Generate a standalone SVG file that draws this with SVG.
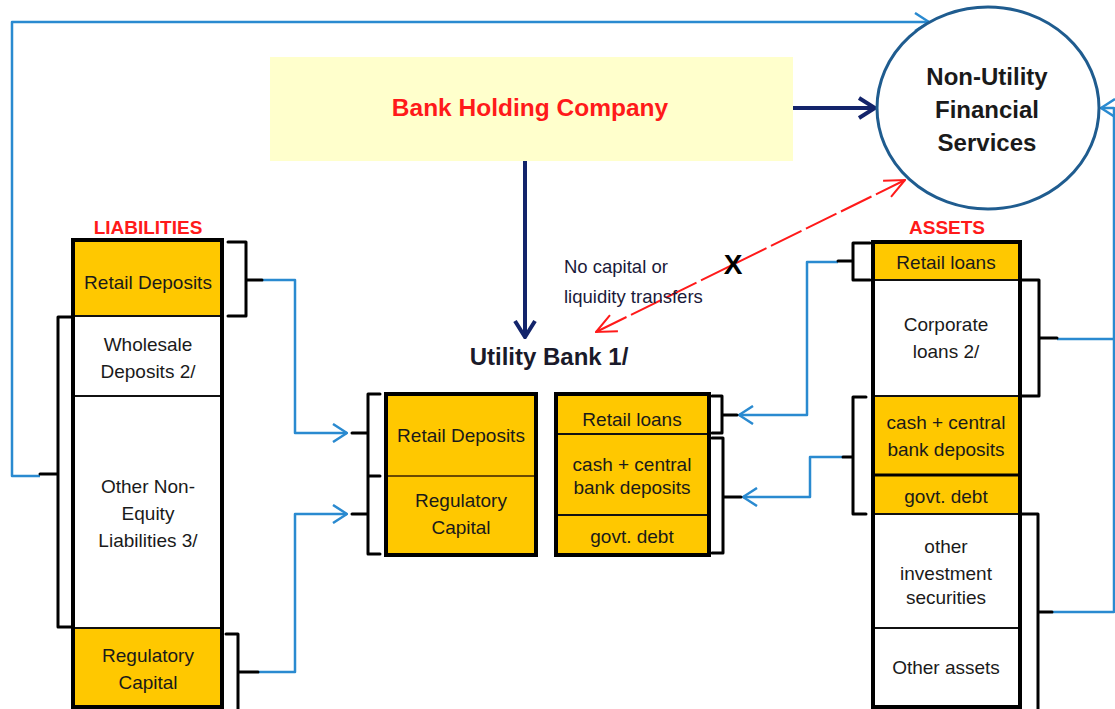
<svg xmlns="http://www.w3.org/2000/svg" width="1115" height="709" viewBox="0 0 1115 709">
<style>
.cell{font-family:"Liberation Sans",Arial,sans-serif;font-size:19px;fill:#1a1a1a;text-anchor:middle}
.hdr{font-family:"Liberation Sans",Arial,sans-serif;font-size:19px;font-weight:bold;fill:#ff1a1a;text-anchor:middle}
.org{fill:#ffc800}
.wht{fill:#ffffff}
.div{stroke:#111;stroke-width:2;fill:none}
.outer{fill:none;stroke:#000;stroke-width:4}
.brk{fill:none;stroke:#000;stroke-width:3;stroke-linejoin:round;stroke-linecap:round}
.blue{fill:none;stroke:#2a8ad0;stroke-width:2.5;stroke-linejoin:round}
.navy{fill:none;stroke:#13246b;stroke-width:4}
.red{fill:none;stroke:#ff1a1a;stroke-width:2;stroke-dasharray:34 5}
</style>
<defs>
<marker id="ab" markerUnits="userSpaceOnUse" viewBox="0 0 16 20" refX="15" refY="10" markerWidth="16" markerHeight="20" orient="auto">
<path d="M1,1 L15,10 L1,19" fill="none" stroke="#2a8ad0" stroke-width="2.5"/>
</marker>
<marker id="an" markerUnits="userSpaceOnUse" viewBox="0 0 20 24" refX="18" refY="12" markerWidth="20" markerHeight="24" orient="auto">
<path d="M2,2 L18,12 L2,22" fill="none" stroke="#13246b" stroke-width="4"/>
</marker>
<marker id="ar" markerUnits="userSpaceOnUse" viewBox="0 0 22 20" refX="21" refY="10" markerWidth="22" markerHeight="20" orient="auto-start-reverse">
<path d="M1,1 L21,10 L1,19" fill="none" stroke="#ff1a1a" stroke-width="2"/>
</marker>
</defs>
<rect width="1115" height="709" fill="#fff"/>

<g id="connectors">
<path class="blue" d="M262,280 H295 V433 H347" marker-end="url(#ab)"/>
<path class="blue" d="M258,672 H295 V514 H347" marker-end="url(#ab)"/>
<path class="blue" d="M40,476 H12 V22 H929" marker-end="url(#ab)"/>
<path class="blue" d="M838,262 H807 V415 H739" marker-end="url(#ab)"/>
<path class="blue" d="M843,457 H810 V497 H743" marker-end="url(#ab)"/>
<path class="blue" d="M1057,339 H1115"/>
<path class="blue" d="M1052,612 H1114 V108 H1101" marker-end="url(#ab)"/>
<path class="navy" d="M793,108 H875" marker-end="url(#an)"/>
<path class="navy" d="M525,160 V337" marker-end="url(#an)"/>
<path class="red" d="M596,332 L905,180" marker-start="url(#ar)" marker-end="url(#ar)"/>
</g>

<g id="bank-holding">
<rect x="270" y="57" width="523" height="104" fill="#ffffcc"/>
<text x="530" y="116" font-family="Liberation Sans,Arial,sans-serif" font-size="24.5" font-weight="bold" fill="#ff1a1a" text-anchor="middle">Bank Holding Company</text>
</g>

<g id="non-utility">
<ellipse cx="988" cy="108" rx="111" ry="101" fill="#fff" stroke="#1f5c8f" stroke-width="3"/>
<g font-family="Liberation Sans,Arial,sans-serif" font-size="24" font-weight="bold" fill="#1a1a1a" text-anchor="middle">
<text x="987" y="85">Non-Utility</text>
<text x="987" y="118">Financial</text>
<text x="987" y="151">Services</text>
</g>
</g>

<g id="transfer-note">
<text x="564" y="273" font-family="Liberation Sans,Arial,sans-serif" font-size="18.5" fill="#1a1a3a">No capital or</text>
<text x="564" y="303" font-family="Liberation Sans,Arial,sans-serif" font-size="18.5" fill="#1a1a3a">liquidity transfers</text>
<text x="733" y="274" font-family="Liberation Sans,Arial,sans-serif" font-size="28" font-weight="bold" fill="#000" text-anchor="middle">X</text>
</g>

<g id="liabilities">
<text class="hdr" x="148" y="234">LIABILITIES</text>
<rect class="org" x="73" y="240" width="149" height="76"/>
<rect class="wht" x="73" y="316" width="149" height="312"/>
<rect class="org" x="73" y="628" width="149" height="79"/>
<path class="div" d="M73,316 H222 M73,396 H222 M73,628 H222"/>
<rect class="outer" x="73" y="240" width="149" height="467"/>
<text class="cell" x="148" y="289">Retail Deposits</text>
<text class="cell" x="148" y="351">Wholesale</text>
<text class="cell" x="148" y="378">Deposits 2/</text>
<text class="cell" x="148" y="493">Other Non-</text>
<text class="cell" x="148" y="520">Equity</text>
<text class="cell" x="148" y="547">Liabilities 3/</text>
<text class="cell" x="148" y="662">Regulatory</text>
<text class="cell" x="148" y="689">Capital</text>
<path class="brk" d="M228,242 H246 V316 H228 M246,280 H262"/>
<path class="brk" d="M73,317 H58 V627 H73 M58,474 H40"/>
<path class="brk" d="M226,634 H238 V730 M238,672 H258"/>
</g>

<g id="utility-bank">
<text x="549" y="365" font-family="Liberation Sans,Arial,sans-serif" font-size="24" font-weight="bold" fill="#1a1a2a" text-anchor="middle">Utility Bank 1/</text>
<rect class="org" x="386" y="394" width="150" height="161"/>
<path d="M386,476 H536" stroke="#6b4a00" stroke-width="2"/>
<rect class="outer" x="386" y="394" width="150" height="161"/>
<text class="cell" x="461" y="442">Retail Deposits</text>
<text class="cell" x="461" y="507">Regulatory</text>
<text class="cell" x="461" y="534">Capital</text>
<rect class="org" x="556" y="394" width="153" height="161"/>
<path class="div" d="M556,434 H709 M556,515 H709"/>
<rect class="outer" x="556" y="394" width="153" height="161"/>
<text class="cell" x="632" y="426" font-size="18">Retail loans</text>
<text class="cell" x="632" y="471" font-size="18">cash + central</text>
<text class="cell" x="632" y="494" font-size="18">bank deposits</text>
<text class="cell" x="632" y="543" font-size="18">govt. debt</text>
<path class="brk" d="M380,394 H368 V554 H380 M368,476 H380 M368,433 H352 M368,514 H352"/>
<path class="brk" d="M712,396 H722 V433 H712 M722,415 H737"/>
<path class="brk" d="M712,438 H723 V553 H712 M723,497 H741"/>
</g>

<g id="assets">
<text class="hdr" x="947" y="234">ASSETS</text>
<rect class="org" x="873" y="242" width="147" height="38"/>
<rect class="wht" x="873" y="280" width="147" height="116"/>
<rect class="org" x="873" y="396" width="147" height="118"/>
<rect class="wht" x="873" y="514" width="147" height="193"/>
<path class="div" d="M873,280 H1020 M873,396 H1020 M873,514 H1020 M873,628 H1020"/>
<path d="M873,475 H1020" stroke="#000" stroke-width="3"/>
<rect class="outer" x="873" y="242" width="147" height="465"/>
<text class="cell" x="946" y="269">Retail loans</text>
<text class="cell" x="946" y="331">Corporate</text>
<text class="cell" x="946" y="358">loans 2/</text>
<text class="cell" x="946" y="429">cash + central</text>
<text class="cell" x="946" y="456">bank deposits</text>
<text class="cell" x="946" y="503">govt. debt</text>
<text class="cell" x="946" y="553">other</text>
<text class="cell" x="946" y="580">investment</text>
<text class="cell" x="946" y="604">securities</text>
<text class="cell" x="946" y="674">Other assets</text>
<path class="brk" d="M870,243 H853 V280 H870 M853,261 H838"/>
<path class="brk" d="M866,397 H853 V514 H866 M853,457 H843"/>
<path class="brk" d="M1022,280 H1039 V396 H1022 M1039,338 H1057"/>
<path class="brk" d="M1022,514 H1038 V730 M1038,612 H1052"/>
</g>
</svg>
